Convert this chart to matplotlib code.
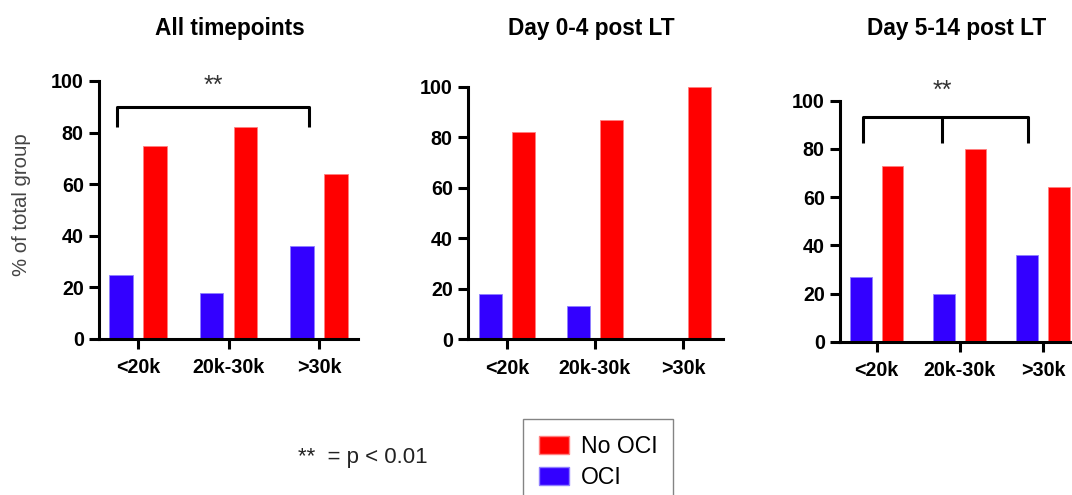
import numpy as np
import matplotlib
matplotlib.use("Agg")
import matplotlib.pyplot as plt
from matplotlib.patches import Patch

plt.rcParams['font.family'] = ['Liberation Sans', 'DejaVu Sans']

# data (% of total group)
categories = ['<20k', '20k-30k', '>30k']
titles = ['All timepoints', 'Day 0-4 post LT', 'Day 5-14 post LT']
oci = [[25, 18, 36],
       [18, 13, 0],
       [27, 20, 36]]
no_oci = [[75, 82, 64],
          [82, 87, 100],
          [73, 80, 64]]
yticks = [0, 20, 40, 60, 80, 100]

BLUE = '#3300ff'
RED = '#ff0000'

fig = plt.figure(figsize=(10.72, 4.95), dpi=100)

W, H = 1072.0, 495.0
# axes boxes in pixels: left, right, bottom(y of 0), top(y of 100)
boxes = [(99, 358, 339, 81), (468, 723, 339.3, 86.7), (840, 1079.6, 341.7, 100.7)]
xlims = [(-0.431, 2.431), (-0.443, 2.455), (-0.44, 2.44)]
title_x = [230, 591, 957]

axes = []
for i in range(3):
    l, r, b, t = boxes[i]
    ax = fig.add_axes([l / W, 1 - b / H, (r - l) / W, (b - t) / H])
    x = np.arange(len(categories))
    ax.bar(x - 0.19, oci[i], width=0.26, color=BLUE, edgecolor='#8f7fff', linewidth=0.6)
    ax.bar(x + 0.19, no_oci[i], width=0.26, color=RED, edgecolor='#ff8080', linewidth=0.6)
    ax.set_xlim(*xlims[i])
    ax.set_ylim(0, 100)
    ax.set_xticks(x)
    ax.set_xticklabels(categories)
    ax.set_yticks(yticks)
    for s in ['top', 'right']:
        ax.spines[s].set_visible(False)
    for s in ['left', 'bottom']:
        ax.spines[s].set_linewidth(2.2)
    ax.tick_params(axis='both', length=7, width=2.2, labelsize=14.2, pad=4)
    ax.tick_params(axis='x', pad=7)
    for lab in ax.get_xticklabels() + ax.get_yticklabels():
        lab.set_fontweight('bold')
    ax.patch.set_alpha(0)
    fig.text(title_x[i] / W, 1 - 28 / H, titles[i], ha='center', va='center',
             fontsize=16.3, fontweight='bold')
    axes.append(ax)

# significance brackets
ax = axes[0]
ax.plot([-0.23, -0.23, 1.89, 1.89], [82, 90, 90, 82], color='black', lw=2.2,
        clip_on=False, solid_capstyle='butt')
ax.text(0.83, 98, '**', ha='center', va='center', fontsize=18, color='#333333')

ax = axes[2]
ax.plot([-0.16, -0.16, 1.82, 1.82], [82.5, 93.4, 93.4, 82.5], color='black', lw=2.2,
        clip_on=False, solid_capstyle='butt')
ax.plot([0.79, 0.79], [93.4, 82.5], color='black', lw=2.2, clip_on=False,
        solid_capstyle='butt')
ax.text(0.79, 104, '**', ha='center', va='center', fontsize=18, color='#333333')

fig.text(22 / W, 1 - 205 / H, '% of total group', rotation=90, ha='center',
         va='center', fontsize=14.7, color='#444444')

fig.text(298 / W, 1 - 458 / H, '**  = p < 0.01', ha='left', va='center',
         fontsize=16, color='#222222')

handles = [Patch(facecolor=RED, edgecolor='#ff8080'), Patch(facecolor=BLUE, edgecolor='#8f7fff')]
leg = fig.legend(handles, ['No OCI', 'OCI'], loc='upper left',
                 bbox_to_anchor=(523 / W, 1 - 419 / H), fontsize=16.6,
                 frameon=True, fancybox=False, edgecolor='#666666',
                 handlelength=1.3, handleheight=0.85, labelspacing=0.35,
                 borderpad=0.7, handletextpad=0.5, borderaxespad=0)
leg.get_frame().set_linewidth(1.0)

fig.savefig('out.png', dpi=100)
